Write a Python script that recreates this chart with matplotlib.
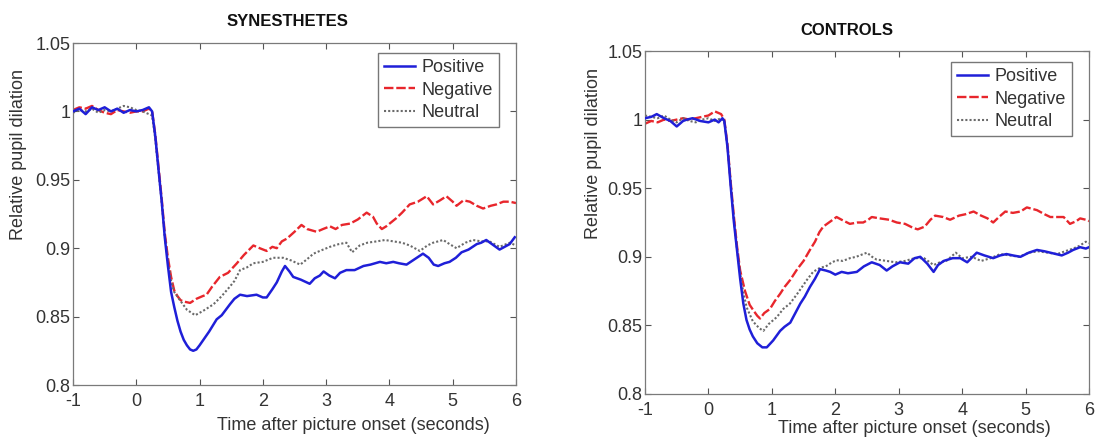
import matplotlib
matplotlib.use("Agg")
import matplotlib.pyplot as plt

plt.rcParams['font.family'] = ['Liberation Sans', 'DejaVu Sans']

# ---------------- data: SYNESTHETES ----------------
syn_pos_t = [-1.0, -0.9, -0.8, -0.7, -0.6, -0.5, -0.4, -0.3, -0.2, -0.1, 0.0, 0.1, 0.2, 0.25, 0.3, 0.35,
             0.4, 0.45, 0.5, 0.55, 0.6, 0.65, 0.7, 0.75, 0.8, 0.85, 0.9, 0.95, 1.0, 1.06, 1.15, 1.27, 1.35,
             1.48, 1.55, 1.64, 1.75, 1.9, 2.0, 2.06, 2.15, 2.22, 2.3, 2.35, 2.42, 2.48, 2.6, 2.74, 2.82, 2.9,
             2.96, 3.05, 3.14, 3.22, 3.32, 3.45, 3.59, 3.7, 3.85, 3.95, 4.06, 4.15, 4.27, 4.4, 4.53, 4.62,
             4.7, 4.77, 4.87, 4.95, 5.05, 5.14, 5.25, 5.38, 5.45, 5.53, 5.62, 5.74, 5.82, 5.9, 5.98]
syn_pos_v = [1.000, 1.002, 0.998, 1.003, 1.001, 1.003, 1.000, 1.002, 0.999, 1.001, 1.000, 1.001, 1.003,
             1.000, 0.982, 0.958, 0.935, 0.908, 0.887, 0.868, 0.857, 0.847, 0.839, 0.833, 0.829, 0.826,
             0.825, 0.826, 0.829, 0.833, 0.839, 0.848, 0.851, 0.859, 0.863, 0.866, 0.865, 0.866, 0.864,
             0.864, 0.870, 0.875, 0.883, 0.887, 0.883, 0.879, 0.877, 0.874, 0.878, 0.880, 0.883, 0.880,
             0.878, 0.882, 0.884, 0.884, 0.887, 0.888, 0.890, 0.889, 0.890, 0.889, 0.888, 0.892, 0.896,
             0.893, 0.888, 0.887, 0.889, 0.890, 0.893, 0.897, 0.899, 0.903, 0.904, 0.906, 0.903, 0.899,
             0.901, 0.903, 0.908]

syn_neg_t = [-1.0, -0.9, -0.8, -0.7, -0.6, -0.5, -0.4, -0.3, -0.2, -0.1, 0.0, 0.1, 0.2, 0.25, 0.3, 0.35,
             0.4, 0.45, 0.5, 0.55, 0.6, 0.65, 0.7, 0.75, 0.85, 0.95, 1.05, 1.11, 1.2, 1.32, 1.45, 1.59, 1.7,
             1.85, 1.95, 2.06, 2.15, 2.22, 2.3, 2.38, 2.5, 2.61, 2.7, 2.85, 2.95, 3.06, 3.15, 3.25, 3.38,
             3.5, 3.64, 3.74, 3.8, 3.88, 3.95, 4.11, 4.2, 4.32, 4.45, 4.59, 4.69, 4.8, 4.9, 5.0, 5.06, 5.17,
             5.27, 5.38, 5.48, 5.6, 5.69, 5.8, 5.9, 6.0]
syn_neg_v = [1.001, 1.003, 1.002, 1.004, 1.001, 0.999, 0.998, 1.001, 1.000, 0.999, 1.000, 1.000, 1.002,
             1.000, 0.983, 0.960, 0.937, 0.911, 0.893, 0.879, 0.869, 0.865, 0.862, 0.861, 0.860, 0.863,
             0.865, 0.866, 0.872, 0.879, 0.882, 0.889, 0.895, 0.902, 0.900, 0.898, 0.901, 0.900, 0.905,
             0.907, 0.912, 0.917, 0.914, 0.912, 0.914, 0.916, 0.914, 0.917, 0.918, 0.921, 0.926, 0.923,
             0.918, 0.914, 0.916, 0.922, 0.926, 0.932, 0.934, 0.938, 0.932, 0.935, 0.938, 0.934, 0.931,
             0.935, 0.934, 0.931, 0.929, 0.931, 0.932, 0.934, 0.934, 0.933]

syn_neu_t = [-1.0, -0.9, -0.8, -0.7, -0.6, -0.5, -0.4, -0.3, -0.2, -0.1, 0.0, 0.1, 0.15, 0.2, 0.25, 0.3,
             0.35, 0.4, 0.45, 0.5, 0.55, 0.6, 0.69, 0.8, 0.93, 1.05, 1.22, 1.35, 1.48, 1.55, 1.64, 1.75,
             1.85, 2.0, 2.16, 2.32, 2.45, 2.59, 2.7, 2.8, 2.9, 3.06, 3.2, 3.32, 3.41, 3.53, 3.65, 3.8, 3.93,
             4.06, 4.2, 4.32, 4.48, 4.6, 4.69, 4.85, 4.95, 5.06, 5.2, 5.32, 5.45, 5.58, 5.74, 5.9, 6.0]
syn_neu_v = [0.999, 1.001, 1.000, 1.002, 0.999, 1.001, 1.000, 1.002, 1.004, 1.003, 1.001, 1.000, 0.999,
             0.998, 0.997, 0.980, 0.957, 0.934, 0.909, 0.890, 0.876, 0.868, 0.862, 0.855, 0.851, 0.854,
             0.859, 0.865, 0.872, 0.876, 0.884, 0.886, 0.889, 0.890, 0.893, 0.893, 0.891, 0.888, 0.892,
             0.896, 0.898, 0.901, 0.903, 0.904, 0.897, 0.902, 0.904, 0.905, 0.906, 0.905, 0.904, 0.902,
             0.898, 0.902, 0.904, 0.906, 0.903, 0.900, 0.904, 0.906, 0.905, 0.905, 0.901, 0.904, 0.902]

# ---------------- data: CONTROLS ----------------
con_pos_t = [-1.0, -0.9, -0.815, -0.7, -0.6, -0.5, -0.4, -0.34, -0.25, -0.13, 0.0, 0.05, 0.1, 0.16, 0.22,
             0.25, 0.3, 0.35, 0.4, 0.45, 0.5, 0.55, 0.6, 0.65, 0.7, 0.77, 0.85, 0.92, 1.02, 1.13, 1.2, 1.29,
             1.37, 1.45, 1.52, 1.6, 1.68, 1.76, 1.85, 1.92, 2.0, 2.1, 2.2, 2.34, 2.45, 2.575, 2.7, 2.81, 2.9,
             3.02, 3.15, 3.25, 3.34, 3.45, 3.55, 3.62, 3.71, 3.85, 3.97, 4.08, 4.23, 4.35, 4.49, 4.6, 4.7,
             4.8, 4.92, 5.05, 5.18, 5.3, 5.39, 5.48, 5.57, 5.67, 5.75, 5.86, 5.95, 6.0]
con_pos_v = [1.001, 1.002, 1.004, 1.001, 0.999, 0.995, 0.999, 1.000, 1.001, 0.999, 0.998, 0.999, 1.000,
             0.998, 1.001, 0.999, 0.980, 0.952, 0.926, 0.905, 0.884, 0.866, 0.854, 0.847, 0.842, 0.837,
             0.834, 0.834, 0.839, 0.846, 0.849, 0.852, 0.859, 0.866, 0.871, 0.878, 0.884, 0.891, 0.890,
             0.889, 0.887, 0.889, 0.888, 0.889, 0.893, 0.896, 0.894, 0.890, 0.893, 0.896, 0.895, 0.899,
             0.900, 0.895, 0.889, 0.894, 0.897, 0.899, 0.899, 0.896, 0.903, 0.901, 0.899, 0.901, 0.902,
             0.901, 0.900, 0.903, 0.905, 0.904, 0.903, 0.902, 0.901, 0.903, 0.905, 0.907, 0.906, 0.907]

con_neg_t = [-1.0, -0.9, -0.8, -0.7, -0.6, -0.5, -0.4, -0.3, -0.2, -0.1, 0.0, 0.1, 0.15, 0.2, 0.25, 0.3,
             0.35, 0.4, 0.45, 0.5, 0.577, 0.65, 0.708, 0.77, 0.814, 0.88, 0.97, 1.05, 1.13, 1.2, 1.287, 1.4,
             1.5, 1.6, 1.68, 1.75, 1.81, 1.9, 2.02, 2.1, 2.23, 2.35, 2.44, 2.52, 2.575, 2.7, 2.85, 2.97, 3.1,
             3.23, 3.3, 3.41, 3.5, 3.574, 3.7, 3.81, 3.95, 4.05, 4.18, 4.3, 4.4, 4.49, 4.58, 4.68, 4.8, 4.92,
             5.02, 5.1, 5.18, 5.3, 5.39, 5.5, 5.6, 5.7, 5.8, 5.86, 5.95, 6.0]
con_neg_v = [0.997, 0.999, 0.998, 1.000, 0.999, 1.000, 1.001, 1.000, 1.001, 1.002, 1.003, 1.006, 1.005,
             1.004, 1.000, 0.982, 0.955, 0.930, 0.908, 0.890, 0.875, 0.865, 0.861, 0.857, 0.855, 0.859,
             0.862, 0.868, 0.873, 0.878, 0.883, 0.891, 0.897, 0.905, 0.911, 0.918, 0.922, 0.925, 0.929,
             0.927, 0.924, 0.925, 0.925, 0.927, 0.929, 0.928, 0.927, 0.925, 0.924, 0.921, 0.920, 0.922,
             0.927, 0.930, 0.929, 0.927, 0.930, 0.931, 0.933, 0.930, 0.928, 0.925, 0.929, 0.933, 0.932,
             0.933, 0.936, 0.935, 0.934, 0.931, 0.929, 0.929, 0.929, 0.924, 0.926, 0.928, 0.927, 0.926]

con_neu_t = [-1.0, -0.9, -0.8, -0.7, -0.6, -0.5, -0.4, -0.3, -0.2, -0.1, 0.0, 0.1, 0.2, 0.25, 0.3, 0.35,
             0.4, 0.45, 0.5, 0.55, 0.604, 0.7, 0.8, 0.866, 0.95, 1.077, 1.18, 1.287, 1.4, 1.55, 1.65, 1.76,
             1.85, 1.95, 2.02, 2.12, 2.23, 2.33, 2.44, 2.5, 2.58, 2.65, 2.81, 2.95, 3.1, 3.25, 3.4, 3.55,
             3.65, 3.75, 3.9, 4.0, 4.15, 4.3, 4.45, 4.6, 4.75, 4.9, 5.05, 5.2, 5.35, 5.5, 5.62, 5.75, 5.85,
             5.95, 6.0]
con_neu_v = [1.003, 1.002, 1.001, 1.003, 1.000, 0.998, 1.001, 0.999, 0.998, 1.000, 1.001, 0.999, 1.001,
             0.999, 0.981, 0.954, 0.928, 0.906, 0.888, 0.874, 0.863, 0.853, 0.848, 0.846, 0.851, 0.856,
             0.862, 0.866, 0.873, 0.883, 0.889, 0.892, 0.893, 0.896, 0.8975, 0.897, 0.899, 0.900, 0.902,
             0.903, 0.900, 0.898, 0.897, 0.896, 0.897, 0.899, 0.899, 0.894, 0.896, 0.897, 0.903, 0.899,
             0.900, 0.897, 0.899, 0.902, 0.901, 0.900, 0.903, 0.904, 0.903, 0.902, 0.904, 0.906, 0.908,
             0.911, 0.910]

titles = ["SYNESTHETES", "CONTROLS"]
legend_labels = ["Positive", "Negative", "Neutral"]
x_ticks = [-1, 0, 1, 2, 3, 4, 5, 6]
y_ticks = [0.8, 0.85, 0.9, 0.95, 1.0, 1.05]
y_ticklabels = ["0.8", "0.85", "0.9", "0.95", "1", "1.05"]
xlabel = "Time after picture onset (seconds)"
ylabel = "Relative pupil dilation"

# ---------------- styling ----------------
POS_C = '#1f1fd8'
NEG_C = '#e8262c'
NEU_C = '#6a6a6a'
FS = 13

fig = plt.figure(figsize=(10.95, 4.41), dpi=100)
axL = fig.add_axes([73 / 1095, (441 - 385) / 441, 443 / 1095, 342 / 441])
axR = fig.add_axes([645 / 1095, (441 - 394) / 441, 444 / 1095, 343 / 441])

panels = [
    (axL, syn_pos_t, syn_pos_v, syn_neg_t, syn_neg_v, syn_neu_t, syn_neu_v, titles[0],
     (0.485, 1.062), (0.634, -0.118), (-0.122, 0.675), (0.962, 0.971)),
    (axR, con_pos_t, con_pos_v, con_neg_t, con_neg_v, con_neu_t, con_neu_v, titles[1],
     (0.455, 1.061), (0.606, -0.102), (-0.115, 0.70), (0.962, 0.968)),
]

for (ax, pt, pv, nt, nv, ut, uv, ttl, tpos, xlpos, ylpos, legpos) in panels:
    ax.plot(pt, pv, color=POS_C, lw=1.8, label=legend_labels[0], zorder=3)
    ax.plot(nt, nv, color=NEG_C, lw=1.7, ls=(0, (4, 1.2)), label=legend_labels[1], zorder=2)
    ax.plot(ut, uv, color=NEU_C, lw=1.5, ls=(0, (1, 1)), label=legend_labels[2], zorder=2)

    ax.set_xlim(-1, 6)
    ax.set_ylim(0.8, 1.05)
    ax.set_xticks(x_ticks)
    ax.set_xticklabels([str(v) for v in x_ticks])
    ax.set_yticks(y_ticks)
    ax.set_yticklabels(y_ticklabels)
    ax.tick_params(direction='in', length=4, width=0.8, colors='#555555',
                   labelcolor='#333333', labelsize=FS, top=True, right=True, pad=3)
    ax.tick_params(axis='x', pad=6)
    ax.tick_params(axis='y', pad=2)
    for s in ax.spines.values():
        s.set_color('#7a7a7a')
        s.set_linewidth(0.9)

    ax.set_title(ttl, fontsize=12, fontweight='bold', x=tpos[0], y=tpos[1], pad=0, va='center',
                 color='#111111')
    ax.set_xlabel(xlabel, fontsize=FS, color='#333333')
    ax.xaxis.set_label_coords(*xlpos)
    ax.xaxis.label.set_va('center')
    ax.set_ylabel(ylabel, fontsize=FS, color='#333333')
    ax.yaxis.set_label_coords(*ylpos)
    ax.yaxis.label.set_va('center')

    leg = ax.legend(loc='upper right', bbox_to_anchor=legpos, borderaxespad=0, fontsize=FS,
                    frameon=True, fancybox=False, edgecolor='#777777', handlelength=1.7,
                    handletextpad=0.35, labelspacing=0.3, borderpad=0.35, framealpha=1)
    leg.get_frame().set_linewidth(1.0)
    for txt in leg.get_texts():
        txt.set_color('#333333')

fig.savefig("out.png", dpi=100)
